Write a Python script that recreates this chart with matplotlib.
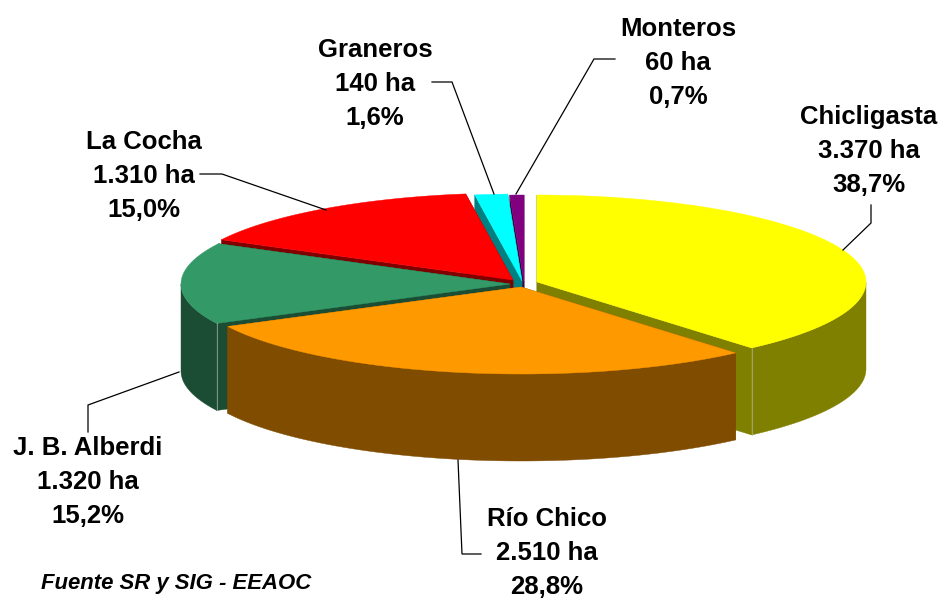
import numpy as np
import matplotlib
matplotlib.use("Agg")
import matplotlib.pyplot as plt
from matplotlib.patches import Polygon

plt.rcParams['font.family'] = ['Liberation Sans', 'DejaVu Sans']

names = ["Chicligasta", "Río Chico", "J. B. Alberdi", "La Cocha", "Graneros", "Monteros"]
areas = [3370, 2510, 1320, 1310, 140, 60]
area_labels = ["3.370 ha", "2.510 ha", "1.320 ha", "1.310 ha", "140 ha", "60 ha"]
pct_labels = ["38,7%", "28,8%", "15,2%", "15,0%", "1,6%", "0,7%"]
source = "Fuente SR y SIG - EEAOC"

top_colors = ["#FFFF00", "#FF9900", "#339966", "#FF0000", "#00FFFF", "#800080"]
side_colors = ["#808000", "#804C00", "#1A4D33", "#800000", "#008080", "#400040"]

# apex of every exploded slice, in pixels
apex_x = [537, 521, 510, 513, 522, 524]
apex_y = [282, 287, 284, 280, 281, 282]
rx, ry, depth = 329, 87, 87

# where the labels sit (first baseline) and how the leader lines run
label_x = [869, 547, 88, 144, 375, 678]
label_y = [124, 526, 455, 149, 57, 36]
line_gap = 34
leaders = [
    [(843, 250), (871, 223), (871, 205)],
    [(458, 460), (462, 554), (481, 554)],
    [(179, 372), (88, 405), (88, 432)],
    [(326, 210), (222, 174), (200, 174)],
    [(494, 194), (452, 82), (432, 82)],
    [(516, 194), (594, 59), (615, 59)],
]

edges = np.cumsum([0] + areas) / sum(areas) * 2 * np.pi


def rim(i, t):
    return apex_x[i] + rx * np.sin(t), apex_y[i] - ry * np.cos(t)


fig = plt.figure(figsize=(9.41, 5.98), dpi=100)
ax = fig.add_axes([0, 0, 1, 1])
ax.set_xlim(0, 941)
ax.set_ylim(598, 0)
ax.axis("off")

# back slices first, so the front ones cover their walls
order = [5, 4, 3, 2, 0, 1]
for i in order:
    t = np.linspace(edges[i], edges[i + 1], 200)
    x, y = rim(i, t)
    side = side_colors[i]

    # flat cut faces
    for tt in (edges[i], edges[i + 1]):
        ex, ey = rim(i, tt)
        ax.add_patch(Polygon([(apex_x[i], apex_y[i]), (ex, ey), (ex, ey + depth),
                              (apex_x[i], apex_y[i] + depth)],
                             closed=True, fc=side, ec=side, lw=0.3))

    # outer wall, only the front half of the round side shows
    front = np.cos(t) <= 0
    if front.any():
        wx, wy = x[front], y[front]
        ax.add_patch(Polygon(np.column_stack([np.r_[wx, wx[::-1]], np.r_[wy, wy[::-1] + depth]]),
                             closed=True, fc=side, ec=side, lw=0.3))
        # thin light line at the corner of the wall
        for tt in (edges[i], edges[i + 1]):
            if np.cos(tt) <= 0 and i in (0, 2):
                ex, ey = rim(i, tt)
                ax.plot([ex, ex], [ey, ey + depth], color="#B0B0A0", lw=0.5)

    # top of the slice
    ax.add_patch(Polygon(np.column_stack([np.r_[apex_x[i], x], np.r_[apex_y[i], y]]),
                         closed=True, fc=top_colors[i], ec=top_colors[i], lw=0.3))

for i in range(len(names)):
    xs, ys = zip(*leaders[i])
    ax.plot(xs, ys, color="black", lw=0.9, solid_joinstyle="miter")
    lines = [names[i], area_labels[i], pct_labels[i]]
    for k, s in enumerate(lines):
        ax.text(label_x[i], label_y[i] + k * line_gap, s, ha="center", va="baseline",
                fontsize=18.5, fontweight="bold", color="black")

ax.text(41, 589, source, ha="left", va="baseline", fontsize=15.9,
        fontweight="bold", fontstyle="italic", color="black")

fig.savefig("out.png", dpi=100, facecolor="white")
